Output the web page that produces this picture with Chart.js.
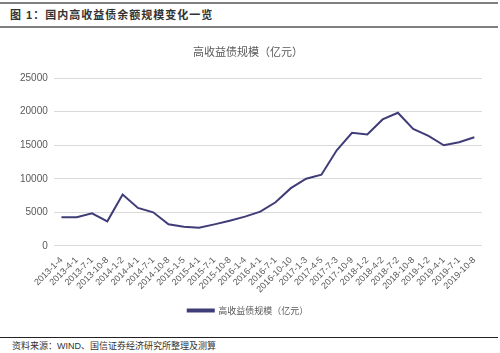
<!DOCTYPE html>
<html>
<head>
<meta charset="utf-8">
<script src="https://cdn.jsdelivr.net/npm/chart.js@4"></script>
<style>
  body { margin: 0; background: #fff; }
  #wrap { position: relative; width: 500px; height: 353px; overflow: hidden; font-family: "Liberation Sans", "Noto Sans CJK SC", sans-serif; }
  .rule { position: absolute; left: 0; width: 498px; background: #7f7f7f; }
  #head { position: absolute; left: 10px; top: 6px; font-size: 11px; font-weight: bold; color: #333; letter-spacing: 1px; }
  #foot { position: absolute; left: 12px; top: 339px; font-size: 9px; color: #333; }
  #box { position: absolute; left: 0; top: 34px; width: 500px; height: 291px; }
</style>
</head>
<body>
<div id="wrap">
  <div class="rule" style="top:2px;height:2px;"></div>
  <div id="head">图 1：国内高收益债余额规模变化一览</div>
  <div class="rule" style="top:26px;height:2px;"></div>
  <div id="box"><canvas id="myChart"></canvas></div>
  <div class="rule" style="top:337px;height:1px;background:#222;"></div>
  <div id="foot">资料来源：WIND、国信证券经济研究所整理及测算</div>
</div>
<script>
var xValues = ["2013-1-4", "2013-4-1", "2013-7-1", "2013-10-8", "2014-1-2", "2014-4-1", "2014-7-1",
    "2014-10-8", "2015-1-5", "2015-4-1", "2015-7-1", "2015-10-8", "2016-1-4", "2016-4-1",
    "2016-7-1", "2016-10-10", "2017-1-3", "2017-4-5", "2017-7-3", "2017-10-9", "2018-1-2",
    "2018-4-2", "2018-7-2", "2018-10-8", "2019-1-2", "2019-4-1", "2019-7-1", "2019-10-8"];
var yValues = [4250, 4250, 4850, 3650, 7650, 5650, 5000, 3200, 2850, 2700, 3200, 3750, 4350, 5100,
    6500, 8600, 10000, 10600, 14250, 16850, 16600, 18850, 19850, 17450, 16400, 15000, 15450, 16200];
var yTicks = [0, 5000, 10000, 15000, 20000, 25000];
var seriesName = "高收益债规模（亿元）";
var lineColor = "#3f3c78";

new Chart("myChart", {
    type: "line",
    data: {
        labels: xValues,
        datasets: [{
            label: seriesName,
            data: yValues,
            borderColor: lineColor,
            backgroundColor: lineColor,
            borderWidth: 2,
            pointRadius: 0,
            tension: 0,
            fill: false
        }]
    },
    options: {
        responsive: true,
        maintainAspectRatio: false,
        animation: false,
        layout: { padding: { left: 14, right: 18, top: 0, bottom: 0 } },
        plugins: {
            title: {
                display: true,
                text: seriesName,
                color: "#595959",
                font: { family: "Noto Sans CJK SC", size: 11, weight: "normal" },
                padding: { top: 11, bottom: 20 }
            },
            legend: {
                position: "bottom",
                labels: {
                    boxWidth: 26,
                    boxHeight: 2,
                    color: "#595959",
                    font: { family: "Noto Sans CJK SC", size: 9 },
                    padding: 10
                }
            },
            tooltip: { enabled: false }
        },
        scales: {
            x: {
                offset: true,
                grid: { display: false },
                border: { display: false },
                ticks: {
                    autoSkip: false,
                    maxRotation: 45,
                    minRotation: 45,
                    color: "#595959",
                    font: { family: "Liberation Sans", size: 9 },
                    padding: 1
                }
            },
            y: {
                min: 0,
                max: 25000,
                afterBuildTicks: function (axis) {
                    axis.ticks = yTicks.map(function (v) { return { value: v }; });
                },
                grid: { color: "#d9d9d9", drawTicks: false },
                border: { display: false },
                ticks: {
                    color: "#595959",
                    font: { family: "Liberation Sans", size: 10 },
                    padding: 6,
                    callback: function (v) { return String(v); }
                }
            }
        }
    }
});
</script>
</body>
</html>
